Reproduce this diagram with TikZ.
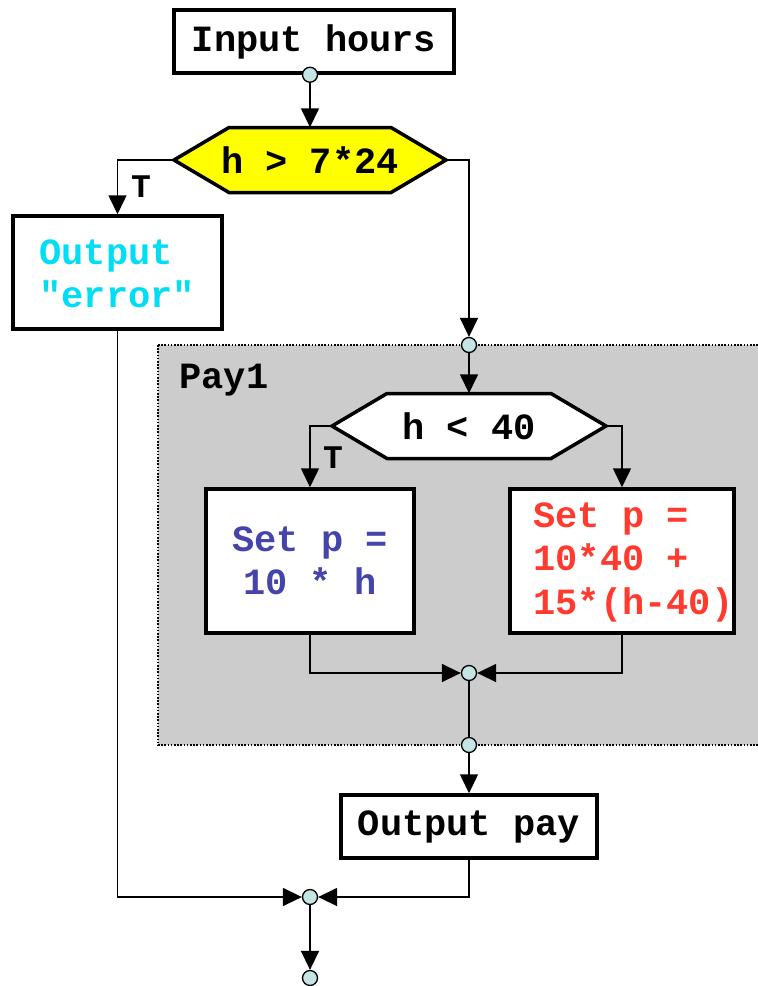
\documentclass[tikz,border=0pt]{standalone}
\usepackage{fontspec}
\setmainfont{Liberation Mono}[Ligatures=TeXOff]
\usetikzlibrary{arrows.meta,calc}
\definecolor{juncfill}{RGB}{197,228,228}
\definecolor{errcyan}{RGB}{0,222,245}
\definecolor{setblue}{RGB}{68,68,170}
\definecolor{setred}{RGB}{255,59,48}
\definecolor{paygray}{RGB}{204,204,204}
\definecolor{condyellow}{RGB}{255,255,0}

% hexagonal decision outline: centre, half width, half height, fill
\newcommand\drawhexagon[4]{%
  \draw[hexline, fill=#4]
    ($(#1)+(-#2,0)$) -- ($(#1)+(-#2+55,-#3)$) -- ($(#1)+(#2-55,-#3)$) --
    ($(#1)+(#2,0)$) -- ($(#1)+(#2-55,#3)$) -- ($(#1)+(-#2+55,#3)$) -- cycle;}

\begin{document}
\begin{tikzpicture}[x=1pt,y=-1pt,
  every node/.style={font=\fontsize{37}{43.5}\selectfont\bfseries},
  box/.style={draw, line width=3.5pt, fill=white, inner sep=0pt},
  junc/.style={circle, draw, line width=1.3pt, fill=juncfill, minimum size=15pt, inner sep=0pt},
  arr/.style={line width=1.5pt, -{Triangle[length=19pt,width=18pt]}},
  conn/.style={line width=1.5pt},
  hexline/.style={line width=3.5pt, line join=miter},
  lbl/.style={font=\fontsize{33}{36}\selectfont\bfseries}
]
\useasboundingbox (0,0) rectangle (758,986);

% Pay1 group region
\draw[fill=paygray, line width=1.6pt, dash pattern=on 1.6pt off 1.6pt]
  (158,345) rectangle (770,745);
\node[anchor=west] (paylbl) at (176,380) {Pay1};

% input
\node[box, minimum width=280pt, minimum height=63pt] (in) at (314,41.5) {Input hours};

% first decision
\coordinate (h1c) at (310,160);
\drawhexagon{h1c}{136}{32.5}{condyellow}
\node[minimum width=272pt, minimum height=65pt, inner sep=0pt] (h1) at (h1c) {h > 7*24};

% error output
\node[box, minimum width=209pt, minimum height=113pt] (err) at (117.5,272.5) {};
\node[anchor=west, align=left, text=errcyan] (errt) at (36,274) {Output\\"error"};

% second decision
\coordinate (h2c) at (469,426);
\drawhexagon{h2c}{137}{32.5}{white}
\node[minimum width=274pt, minimum height=65pt, inner sep=0pt] (h2) at (h2c) {h < 40};

% pay computations
\node[box, minimum width=208pt, minimum height=144pt, align=center, text=setblue]
  (sa) at (310,561) {Set p =\\10 * h};
\node[box, minimum width=224pt, minimum height=144pt] (sb) at (622,561) {};
\node[anchor=west, align=left, text=setred] (sbt) at (530,562) {Set p =\\10*40 +\\15*(h-40)};

% output
\node[box, minimum width=256pt, minimum height=63pt] (out) at (469,826.5) {Output pay};

% junction points
\node[junc] (j0) at (h1c |- in.south) {};
\node[junc] (j1) at (469,345) {};
\node[junc] (j2) at (469,673) {};
\node[junc] (j3) at (469,745) {};
\node[junc] (j4) at (310,897) {};
\node[junc] (j5) at (310,978) {};

% branch labels
\node[lbl] (t1) at (141,187) {T};
\node[lbl] (t2) at (333,458) {T};

% connectors
\draw[arr] (j0) -- (h1.north);
\draw[arr] (h1.west) -| (err.north);
\draw[arr] (h1.east) -| (j1);
\draw[arr] (j1) -- (h2.north);
\draw[arr] (h2.west) -| (sa.north);
\draw[arr] (h2.east) -| (sb.north);
\draw[arr] (sa.south) |- (j2);
\draw[arr] (sb.south) |- (j2);
\draw[conn] (j2) -- (j3);
\draw[arr] (j3) -- (out.north);
\draw[arr] (out.south) |- (j4);
\draw[arr] (err.south) |- (j4);
\draw[arr] (j4) -- (j5);
\end{tikzpicture}
\end{document}
